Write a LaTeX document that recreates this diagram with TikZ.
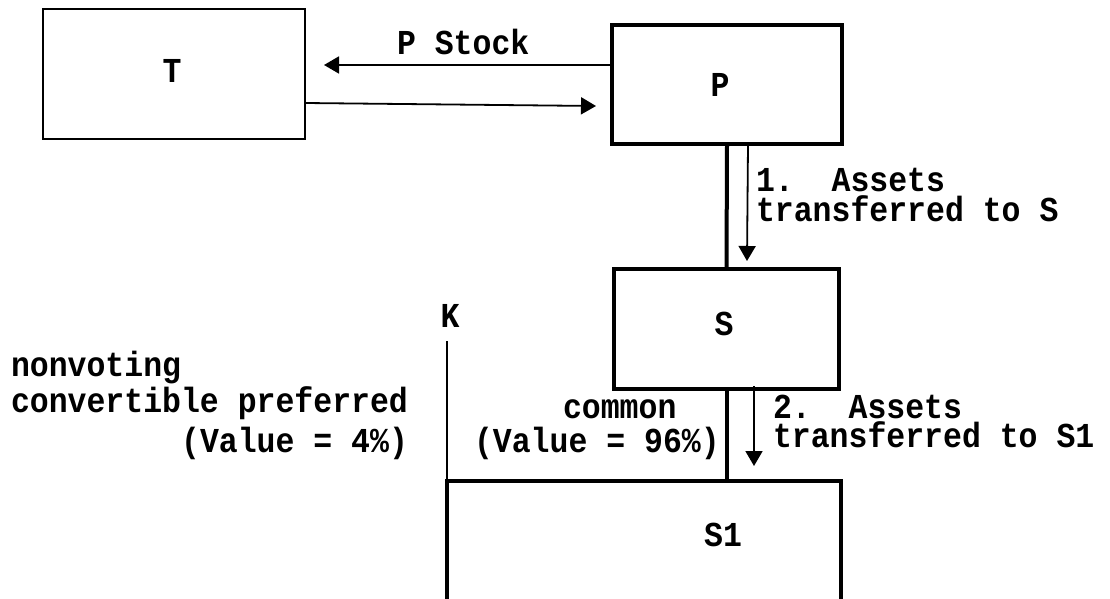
\documentclass[tikz,border=0pt]{standalone}
\usepackage{fontspec}
\newfontfamily\monob[FakeStretch=0.9]{Liberation Mono}
\usetikzlibrary{arrows.meta,calc}
\frenchspacing
\begin{document}
\begin{tikzpicture}[x=1pt,y=-1pt,
  lbl/.style={font=\fontsize{35}{30}\selectfont\monob\bfseries, inner sep=0pt, outer sep=0pt},
  thinbox/.style={draw, line width=1.8pt, inner sep=0pt, outer sep=0pt},
  thickbox/.style={draw, line width=3.5pt, inner sep=0pt, outer sep=0pt},
  flow/.style={line width=1.8pt, -{Triangle[length=15pt,width=17pt]}},
  bar/.style={line width=4pt},
  plain/.style={line width=1.6pt}]
\clip (0,0) rectangle (1110,599);
\fill[white] (0,0) rectangle (1110,599);
% boxes
\node[thinbox, minimum width=262pt, minimum height=130pt] (T) at (174,74) {};
\node[thickbox, minimum width=230pt, minimum height=119pt] (P) at (727,84.5) {};
\node[thickbox, minimum width=225pt, minimum height=120pt] (S) at (726.5,329) {};
\node[thickbox, minimum width=394pt, minimum height=200pt] (S1) at (644,581) {};
% box labels
\node[lbl, anchor=base] (Tl) at (172,83) {T};
\node[lbl, anchor=base] (Pl) at (720,97) {P};
\node[lbl, anchor=base] (Sl) at (724,335) {S};
\node[lbl, anchor=base] (S1l) at (723,546) {S1};
\node[lbl, anchor=base] (K) at (450,327) {K};
% arrows between T and P
\draw[flow] ($(P.north west)+(0,40)$) -- ($(T.north east)+(19,56)$);
\draw[flow] ($(T.north east)+(0,94)$) -- ($(P.north west)+(-16,81)$);
\node[lbl, anchor=base west] (stock) at (397,55) {P Stock};
% P to S
\draw[bar] (P.south) -- (S.north);
\draw[flow] ([xshift=21pt]P.south) -- ([xshift=20.5pt,yshift=8pt]S.north);
\node[lbl, anchor=base west, align=left] (a1) at (756,221) {1.\ \ Assets\\transferred to S};
% S to S1
\draw[bar] (S.south) -- (S.south |- S1.north);
\draw[flow] ($(S.south)+(27.5,-3)$) -- ($(S.south |- S1.north)+(27.5,-15)$);
\node[lbl, anchor=base west, align=left] (a2) at (773,447) {2.\ \ Assets\\[-1pt]transferred to S1};
% K line
\draw[plain] ([yshift=-14pt]S1.north west |- K.south) -- (S1.north west);
% stock labels
\node[lbl, anchor=base west, align=left, font=\fontsize{35}{38}\selectfont\monob\bfseries] (pref) at (11,452)
  {nonvoting\\[-2pt]convertible preferred\\[2pt]\hfill(Value = 4\%)};
\node[lbl, anchor=base west, align=left, font=\fontsize{35}{34}\selectfont\monob\bfseries] (cm) at (474,452)
  {\hspace{89pt}common\\(Value = 96\%)};
\end{tikzpicture}
\end{document}
